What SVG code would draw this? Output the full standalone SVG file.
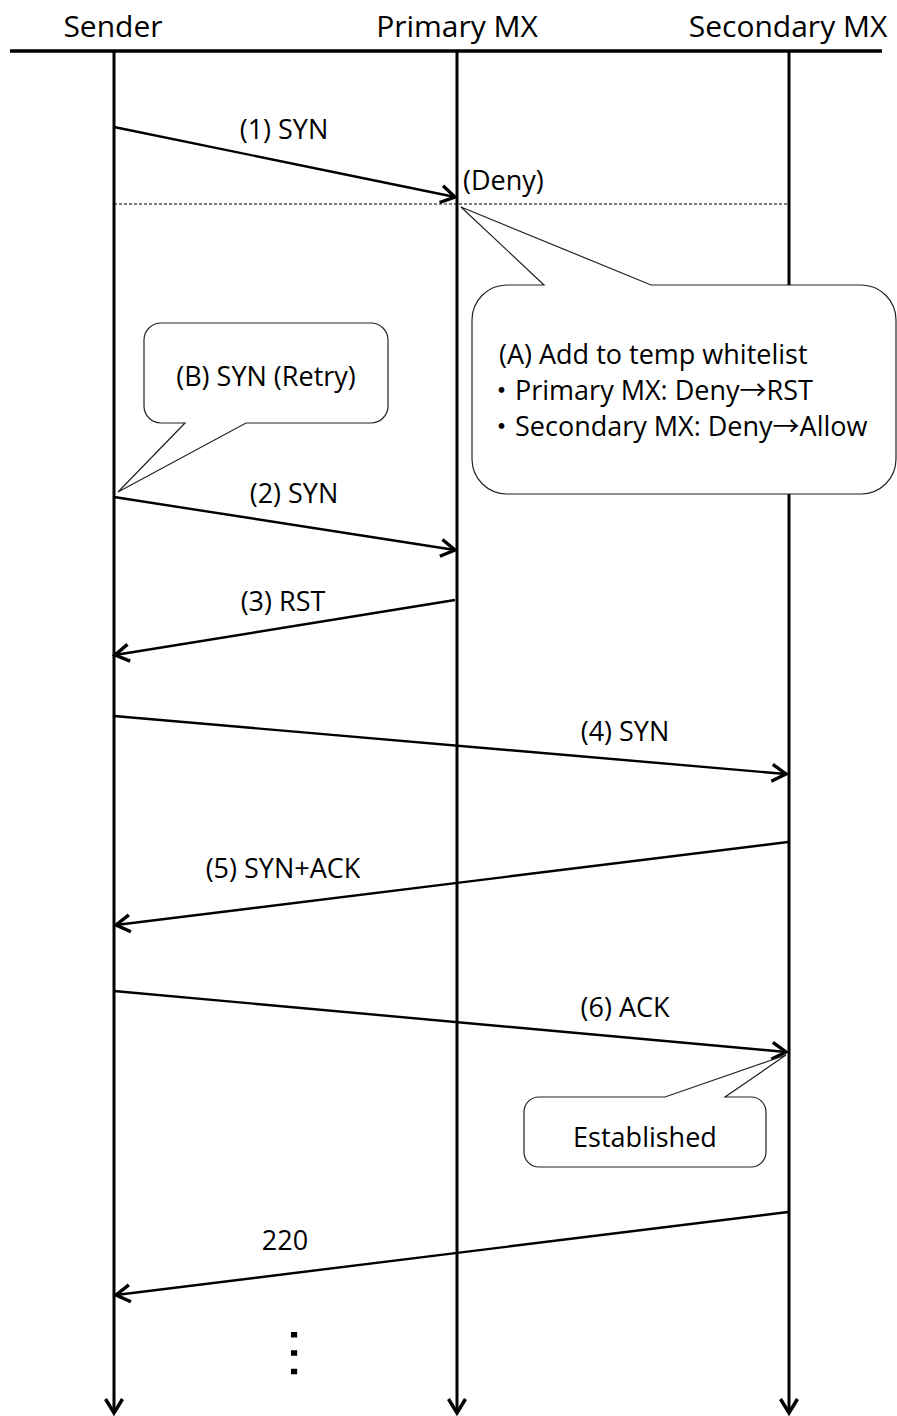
<svg xmlns="http://www.w3.org/2000/svg" width="897" height="1416" viewBox="0 0 897 1416">
<defs>
<style>
text{font-family:"Open Sans","Noto Sans CJK JP",sans-serif;fill:#000}
.hdr{font-size:30px;text-anchor:middle}
.lbl{font-size:27px;text-anchor:middle}
.note{font-size:27px}
.jp{font-family:"Noto Sans CJK JP",sans-serif}
.life{stroke:#000;stroke-width:3;fill:none}
.msg{stroke:#000;stroke-width:2.4;fill:none}
.call{fill:#fff;stroke:#222;stroke-width:1.2}
</style>
<marker id="arr" viewBox="-18 -11 22 22" refX="0" refY="0" markerWidth="22" markerHeight="22" markerUnits="userSpaceOnUse" orient="auto">
<path d="M -14 -8.5 L 0 0 L -14 8.5" fill="none" stroke="#000" stroke-width="3.4"/>
</marker>
</defs>
<rect width="897" height="1416" fill="#fff"/>
<line x1="10" y1="51" x2="882" y2="51" stroke="#000" stroke-width="3.5"/>
<g id="sender">
<text class="hdr" x="113" y="37">Sender</text>
<line class="life" x1="114" y1="51" x2="114" y2="1413" marker-end="url(#arr)"/>
</g>
<g id="primary">
<text class="hdr" x="457" y="37">Primary MX</text>
<line class="life" x1="457" y1="51" x2="457" y2="1413" marker-end="url(#arr)"/>
</g>
<g id="secondary">
<text class="hdr" x="788" y="37">Secondary MX</text>
<line class="life" x1="789" y1="51" x2="789" y2="1413" marker-end="url(#arr)"/>
</g>
<g id="connectors">
<line x1="114" y1="204" x2="788" y2="204" stroke="#000" stroke-width="1" stroke-dasharray="3 2"/>
<line class="msg" x1="114" y1="127" x2="455" y2="197" marker-end="url(#arr)"/>
<text class="lbl" x="284" y="139">(1) SYN</text>
<text class="note" x="463" y="190">(Deny)</text>
<line class="msg" x1="114" y1="497" x2="455" y2="550" marker-end="url(#arr)"/>
<text class="lbl" x="294" y="503">(2) SYN</text>
<line class="msg" x1="455" y1="600" x2="115" y2="655" marker-end="url(#arr)"/>
<text class="lbl" x="283" y="611">(3) RST</text>
<line class="msg" x1="114" y1="716" x2="786" y2="774" marker-end="url(#arr)"/>
<text class="lbl" x="625" y="741">(4) SYN</text>
<line class="msg" x1="788" y1="842" x2="116" y2="925" marker-end="url(#arr)"/>
<text class="lbl" x="283" y="878">(5) SYN+ACK</text>
<line class="msg" x1="114" y1="991" x2="786" y2="1052" marker-end="url(#arr)"/>
<text class="lbl" x="625" y="1017">(6) ACK</text>
<line class="msg" x1="788" y1="1212" x2="116" y2="1295" marker-end="url(#arr)"/>
<text class="lbl" x="285" y="1250">220</text>
</g>
<g id="noteA">
<path class="call" d="M 507 285 L 544 285 L 461 207 L 651 285 L 861 285 A 35 35 0 0 1 896 320 L 896 459 A 35 35 0 0 1 861 494 L 507 494 A 35 35 0 0 1 472 459 L 472 320 A 35 35 0 0 1 507 285 Z"/>
<text class="note" x="499" y="364">(A) Add to temp whitelist</text>
<text class="note" x="488" y="400"><tspan class="jp">・</tspan>Primary MX: Deny→RST</text>
<text class="note" x="488" y="436"><tspan class="jp">・</tspan>Secondary MX: Deny→Allow</text>
</g>
<g id="noteB">
<path class="call" d="M 161 323 L 371 323 A 17 17 0 0 1 388 340 L 388 406 A 17 17 0 0 1 371 423 L 246 423 L 118 492 L 185 423 L 161 423 A 17 17 0 0 1 144 406 L 144 340 A 17 17 0 0 1 161 323 Z"/>
<text class="lbl" x="266" y="386">(B) SYN (Retry)</text>
</g>
<g id="established">
<path class="call" d="M 539 1097 L 665 1097 L 786 1055 L 725 1097 L 751 1097 A 15 15 0 0 1 766 1112 L 766 1152 A 15 15 0 0 1 751 1167 L 539 1167 A 15 15 0 0 1 524 1152 L 524 1112 A 15 15 0 0 1 539 1097 Z"/>
<text class="lbl" x="645" y="1147">Established</text>
</g>
<g id="ellipsis">
<text transform="translate(294,1353) rotate(90)" x="0" y="3" style="font-family:'Liberation Sans',sans-serif;font-size:58px;text-anchor:middle">…</text>
</g>
</svg>
